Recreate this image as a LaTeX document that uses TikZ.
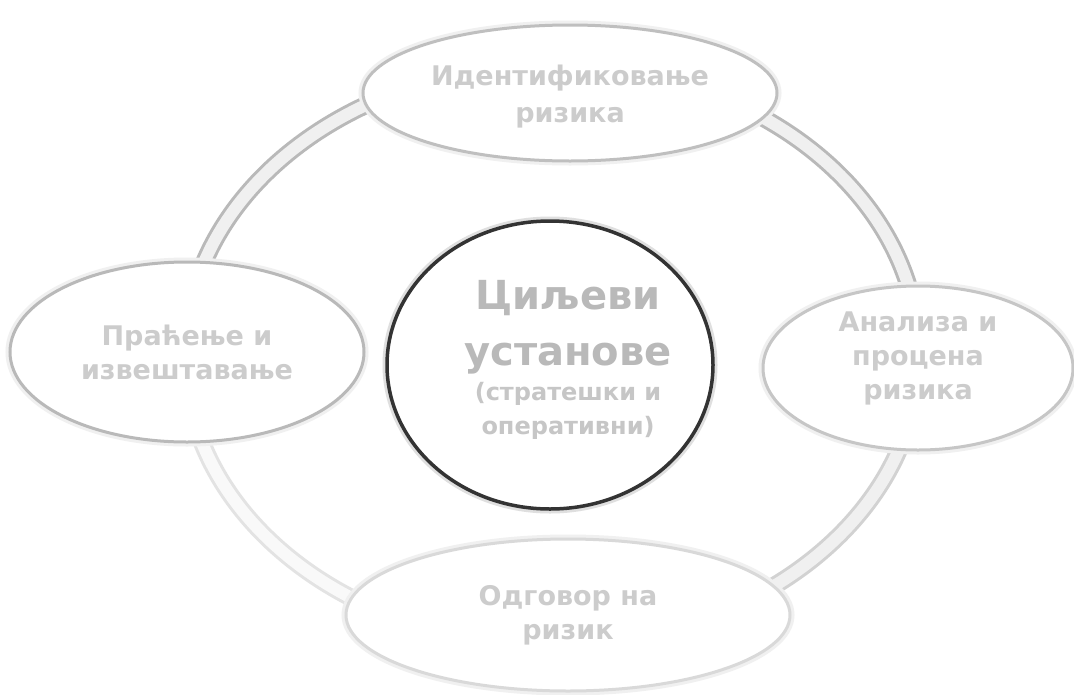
\documentclass[tikz,border=0pt]{standalone}
\usepackage{fontspec}
\setmainfont{DejaVu Sans}
\usetikzlibrary{shapes.geometric}
\begin{document}
\begin{tikzpicture}[x=1pt,y=-1pt,
  ringband/.style={line width=3pt, draw=#1, double=gray!12, double distance=12pt},
  stage/.style={ellipse, fill=white, draw=#1, line width=3pt, inner sep=0pt,
    preaction={draw=gray!12, line width=9pt},
    font=\fontsize{27}{34}\selectfont\bfseries, text=gray!40, align=center},
  goalshape/.style={ellipse, fill=white, draw=black!80, line width=3.5pt, inner sep=0pt,
    preaction={draw=gray!25, line width=9pt}},
]
\useasboundingbox (0,0) rectangle (1074,694);
\fill[white] (0,0) rectangle (1074,694);

% ring
\coordinate (rw) at (185,355);
\coordinate (rn) at (552,65);
\coordinate (re) at (919,355);
\coordinate (rs) at (552,645);
\draw[ringband=gray!55] (rw) arc[start angle=180,end angle=270,x radius=367,y radius=290];
\draw[ringband=gray!55] (rn) arc[start angle=270,end angle=360,x radius=367,y radius=290];
\draw[ringband=gray!35] (re) arc[start angle=0,end angle=90,x radius=367,y radius=290];
\draw[ringband=gray!22, double=gray!5] (rs) arc[start angle=90,end angle=180,x radius=367,y radius=290];

% stages
\node[stage=gray!50, minimum width=414, minimum height=136] (ident) at (570,93)
  {\raisebox{-4pt}[\height][\depth]{\begin{tabular}{@{}c@{}}Идентификовање\\[3pt]ризика\end{tabular}}};
\node[stage=gray!45, minimum width=310, minimum height=164] (anal) at (918,368)
  {\raisebox{9pt}[\height][\depth]{\begin{tabular}{@{}c@{}}Анализа и\\процена\\ризика\end{tabular}}};
\node[stage=gray!30, minimum width=444, minimum height=152] (resp) at (568,615) {Одговор на\\ризик};
\node[stage=gray!55, minimum width=354, minimum height=180] (monit) at (187,352) {Праћење и\\извештавање};

% centre
\node[goalshape, minimum width=326, minimum height=288] (goal) at (550,365) {};
\node[align=center, text=gray!55, font=\bfseries\fontsize{40}{56}\selectfont] (goaltext) at (568,360)
  {Циљеви\\установе\\[-21pt]{\fontsize{24}{34}\selectfont\color{gray!45}(стратешки и}\\[-22pt]{\fontsize{24}{34}\selectfont\color{gray!45}оперативни)}};
\end{tikzpicture}
\end{document}
